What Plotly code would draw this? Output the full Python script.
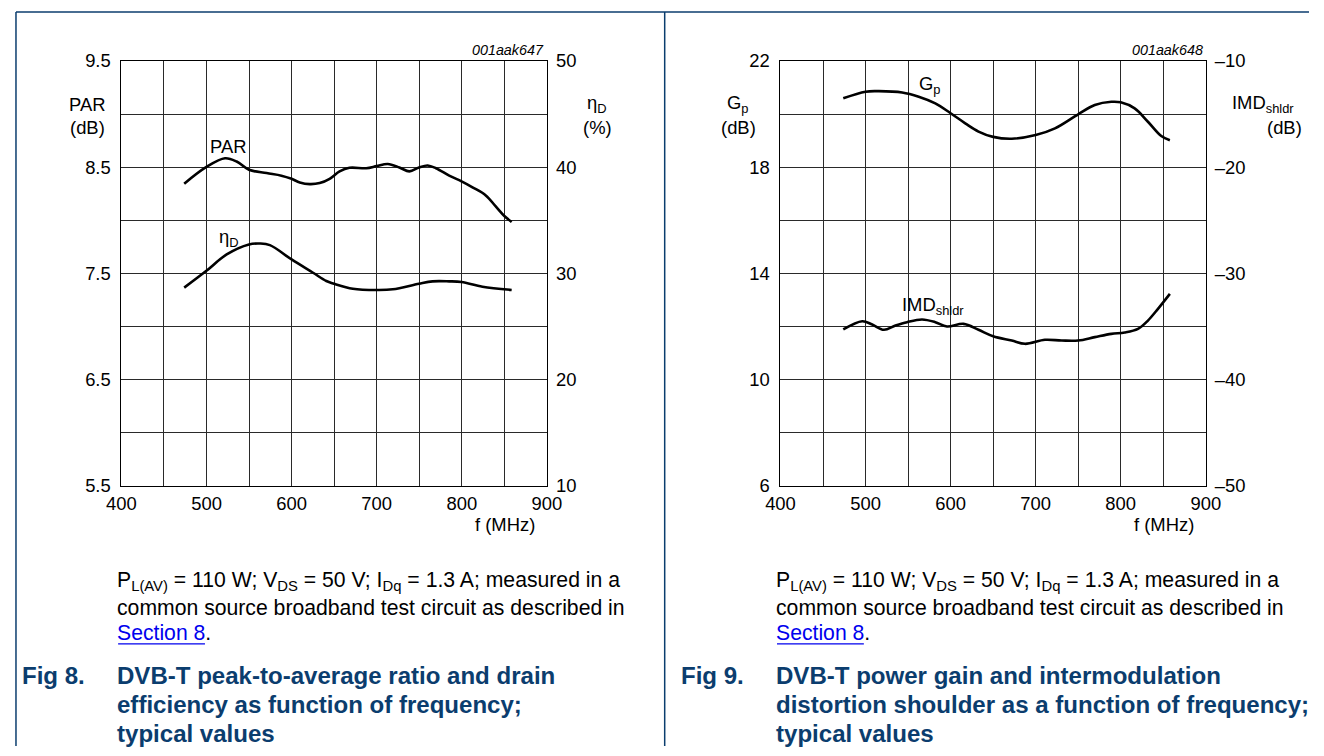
import plotly.graph_objects as go

# ---------------- data ----------------
# Fig 8: PAR (dB, left axis) and drain efficiency (%, right axis) vs frequency
par_freq = [473.8, 499.5, 521.8, 535.4, 549.9, 570.6, 588, 600, 609.6, 621.3, 633, 644.7,
            656.4, 668, 687.7, 700, 713, 726.7, 738.4, 749.7, 759.9, 769.6, 785.2, 799.7,
            812.6, 828.2, 839.9, 850, 858.6]
par_db = [8.344, 8.5, 8.584, 8.553, 8.475, 8.444, 8.42, 8.39, 8.356, 8.34, 8.35, 8.39,
          8.46, 8.494, 8.49, 8.51, 8.53, 8.497, 8.46, 8.497, 8.516, 8.49, 8.42, 8.366,
          8.31, 8.234, 8.13, 8.04, 7.984]

eta_freq = [473.8, 499.5, 523.7, 549.9, 562.8, 574.5, 600, 625.2, 640.8, 649.8, 672, 700,
            718.9, 749.7, 765.7, 785.2, 799.7, 824.3, 858.6]
eta_pct = [28.66, 30.22, 31.78, 32.72, 32.81, 32.66, 31.31, 30.06, 29.28, 29.03, 28.56, 28.44,
           28.5, 29.03, 29.25, 29.25, 29.19, 28.75, 28.44]

# Fig 9: power gain (dB, left axis) and IMD shoulder (dB, right axis) vs frequency
gp_freq = [473.8, 500, 515.6, 543, 562.5, 582, 600, 617.2, 632.8, 650, 671.9, 700, 722.7,
           750, 769.5, 789, 800, 816.4, 832, 847.7, 857.8]
gp_db = [20.59, 20.84, 20.86, 20.81, 20.65, 20.4, 20.03, 19.65, 19.34, 19.14, 19.07, 19.21,
         19.46, 19.99, 20.34, 20.46, 20.44, 20.21, 19.71, 19.17, 19.01]

imd_freq = [473.8, 496.1, 507.8, 521.5, 535.2, 548.8, 566.4, 582, 595.7, 615.2, 632.8, 650,
            671.9, 687.5, 710.9, 730.5, 750, 769.5, 789, 804.7, 820.3, 832, 843.8, 857.8]
imd_db = [-35.28, -34.5, -34.81, -35.31, -34.91, -34.59, -34.34, -34.59, -35.0, -34.75,
          -35.31, -35.91, -36.32, -36.63, -36.25, -36.32, -36.32, -36.0, -35.69, -35.56,
          -35.22, -34.44, -33.34, -31.93]

x_ticks = [400, 450, 500, 550, 600, 650, 700, 750, 800, 850, 900]
x_labels = ["400", "", "500", "", "600", "", "700", "", "800", "", "900"]
par_ticks = [5.5, 6.0, 6.5, 7.0, 7.5, 8.0, 8.5, 9.0, 9.5]
par_labels = ["5.5", "", "6.5", "", "7.5", "", "8.5", "", "9.5"]
eta_ticks = [10, 20, 30, 40, 50]
eta_labels = ["10", "20", "30", "40", "50"]
gp_ticks = [6, 8, 10, 12, 14, 16, 18, 20, 22]
gp_labels = ["6", "", "10", "", "14", "", "18", "", "22"]
imd_ticks = [-50, -40, -30, -20, -10]
imd_labels = ["\u201350", "\u201340", "\u201330", "\u201320", "\u201310"]

# ---------------- style ----------------
# design coordinates are reference pixels; they are mapped to page pixels so that the
# photographed picture lines up with the reference
W, H = 1324, 756
SX, SY = 0.979, 0.975
AX, AY = 14.0, 9.5
KF = 1 / 0.977
FONT = "Arial, 'Liberation Sans', sans-serif"
NAVY = "#0b3d6e"
GRID = "#2a2a2a"


def px_x(r):
    return (r / SX - AX) / W


def px_y(r):
    return 1 - (r / SY - AY) / H


def fs(s):
    return round(s * KF, 2)


fig = go.Figure()
line = dict(color="black", width=2.6, shape="spline", smoothing=1.0)
fig.add_trace(go.Scatter(x=par_freq, y=par_db, mode="lines", line=line, xaxis="x", yaxis="y",
                         showlegend=False, hoverinfo="skip"))
fig.add_trace(go.Scatter(x=eta_freq, y=eta_pct, mode="lines", line=line, xaxis="x", yaxis="y2",
                         showlegend=False, hoverinfo="skip"))
fig.add_trace(go.Scatter(x=gp_freq, y=gp_db, mode="lines", line=line, xaxis="x2", yaxis="y3",
                         showlegend=False, hoverinfo="skip"))
fig.add_trace(go.Scatter(x=imd_freq, y=imd_db, mode="lines", line=line, xaxis="x2", yaxis="y4",
                         showlegend=False, hoverinfo="skip"))

tickfont = dict(family=FONT, size=fs(18), color="black")
ydom = [px_y(485.5), px_y(59.3)]
xdom1 = [px_x(120.3), px_x(546.5)]
xdom2 = [px_x(780.5), px_x(1206.5)]

xcommon = dict(range=[400, 900], tickmode="array", tickvals=x_ticks, ticktext=x_labels,
               showgrid=True, gridcolor=GRID, gridwidth=1, zeroline=False, showline=True,
               linecolor="black", linewidth=1, mirror=True, ticks="", tickfont=tickfont,
               ticklabelstandoff=1, fixedrange=True)
ycommon = dict(domain=ydom, showgrid=True, gridcolor=GRID, gridwidth=1, zeroline=False,
               showline=True, linecolor="black", linewidth=1, mirror=True, ticks="",
               tickfont=tickfont, ticklabelstandoff=6, tickmode="array", fixedrange=True)
yright = dict(domain=ydom, side="right", tickmode="array", showgrid=False, zeroline=False,
              ticks="", tickfont=tickfont, ticklabelstandoff=8, fixedrange=True)
fig.update_layout(
    xaxis=dict(domain=xdom1, anchor="y", **xcommon),
    xaxis2=dict(domain=xdom2, anchor="y3", **xcommon),
    yaxis=dict(range=[5.5, 9.5], tickvals=par_ticks, ticktext=par_labels, anchor="x", **ycommon),
    yaxis2=dict(range=[10, 50], overlaying="y", anchor="x", tickvals=eta_ticks,
                ticktext=eta_labels, **yright),
    yaxis3=dict(range=[6, 22], tickvals=gp_ticks, ticktext=gp_labels, anchor="x2", **ycommon),
    yaxis4=dict(range=[-50, -10], overlaying="y3", anchor="x2", tickvals=imd_ticks,
                ticktext=imd_labels, **yright),
)

ann = []
PAD = 3  # plotly adds a few pixels of padding to left-anchored annotations


def txt(x, y, text, size=18, xanchor="center", yanchor="middle", color="black", bold=False,
        italic=False, xref="paper", yref="paper"):
    if xref == "paper":
        if xanchor == "left":
            x -= PAD
        elif xanchor == "right":
            x += PAD
        x = px_x(x)
    if yref == "paper":
        y = px_y(y)
    t = text
    if bold:
        t = "<b>" + t + "</b>"
    if italic:
        t = "<i>" + t + "</i>"
    ann.append(dict(x=x, y=y, xref=xref, yref=yref, text=t, showarrow=False, xanchor=xanchor,
                    yanchor=yanchor, font=dict(family=FONT, size=fs(size), color=color)))


# axis titles
txt(86, 103, "PAR")
txt(86, 126, "(dB)")
txt(597, 103, "\u03b7<sub>D</sub>")
txt(597, 126, "(%)")
txt(505, 524, "f (MHz)")
txt(543, 48, "001aak647", size=14, xanchor="right", italic=True)

txt(738, 103, "G<sub>p</sub>")
txt(738, 126, "(dB)")
txt(1264, 103, "IMD<sub>shldr</sub>")
txt(1285, 126, "(dB)")
txt(1165, 524, "f (MHz)")
txt(1203, 48, "001aak648", size=14, xanchor="right", italic=True)

# curve labels (data coordinates)
txt(525, 8.69, "PAR", xref="x", yref="y")
txt(527, 33.3, "\u03b7<sub>D</sub>", xref="x", yref="y2")
txt(576, 21.1, "G<sub>p</sub>", xref="x2", yref="y3")
txt(579, -33.1, "IMD<sub>shldr</sub>", xref="x2", yref="y4")

# captions
CS = 20.7
for x0 in (117, 777):
    txt(x0, 581, "P<sub>L(AV)</sub> = 110 W; V<sub>DS</sub> = 50 V; I<sub>Dq</sub> = 1.3 A; measured in a",
        size=CS, xanchor="left")
    txt(x0, 607, "common source broadband test circuit as described in", size=CS, xanchor="left")
    txt(x0, 633, "<span style='color:#0000ee'>Section 8</span>.", size=CS, xanchor="left")

TS = 23.5
txt(22, 676, "Fig 8.", size=TS, xanchor="left", color=NAVY, bold=True)
txt(117, 676, "DVB-T peak-to-average ratio and drain", size=TS, xanchor="left", color=NAVY, bold=True)
txt(117, 705, "efficiency as function of frequency;", size=TS, xanchor="left", color=NAVY, bold=True)
txt(117, 734, "typical values", size=TS, xanchor="left", color=NAVY, bold=True)

txt(682, 676, "Fig 9.", size=TS, xanchor="left", color=NAVY, bold=True)
txt(777, 676, "DVB-T power gain and intermodulation", size=TS, xanchor="left", color=NAVY, bold=True)
txt(777, 705, "distortion shoulder as a function of frequency;", size=TS, xanchor="left", color=NAVY, bold=True)
txt(777, 734, "typical values", size=TS, xanchor="left", color=NAVY, bold=True)

edge_x = 1.0 / W
edge_y = 1 - 1.0 / H
shapes = [
    dict(type="line", xref="paper", yref="paper", x0=edge_x, x1=1, y0=edge_y, y1=edge_y,
         line=dict(color=NAVY, width=1.5)),
    dict(type="line", xref="paper", yref="paper", x0=edge_x, x1=edge_x, y0=edge_y, y1=0,
         line=dict(color=NAVY, width=1.5)),
    dict(type="line", xref="paper", yref="paper", x0=px_x(664.5), x1=px_x(664.5), y0=edge_y, y1=0,
         line=dict(color=NAVY, width=1.5)),
    dict(type="line", xref="paper", yref="paper", x0=px_x(117), x1=px_x(204), y0=px_y(644), y1=px_y(644),
         line=dict(color="#0000ee", width=1.3)),
    dict(type="line", xref="paper", yref="paper", x0=px_x(777), x1=px_x(864), y0=px_y(644), y1=px_y(644),
         line=dict(color="#0000ee", width=1.3)),
]

fig.update_layout(
    width=W, height=H, margin=dict(l=0, r=0, t=0, b=0), autosize=False,
    paper_bgcolor="white", plot_bgcolor="white",
    annotations=ann, shapes=shapes,
    font=dict(family=FONT, size=fs(18), color="black"),
)

fig.write_html("out.html", config={"displayModeBar": False, "staticPlot": True},
               post_script="document.body.style.margin='0';")
